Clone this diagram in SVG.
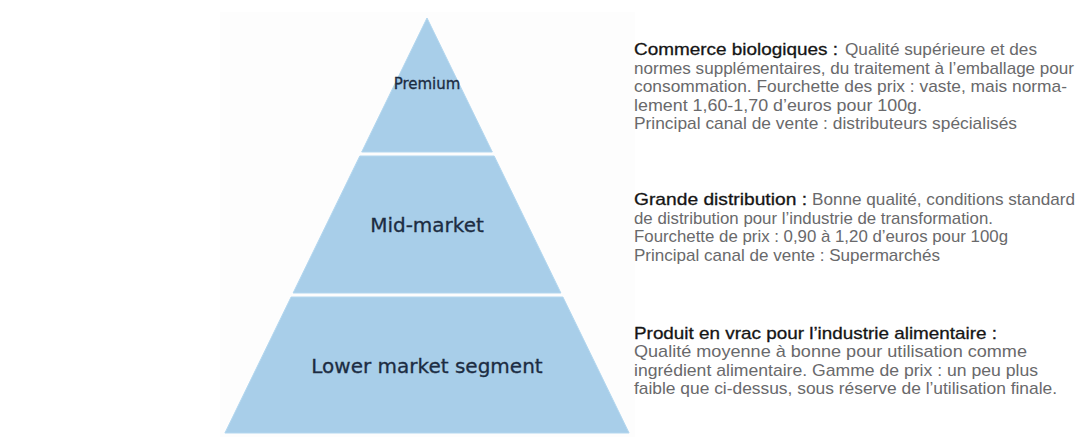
<svg xmlns="http://www.w3.org/2000/svg" width="1086" height="444" viewBox="0 0 1086 444">
<style>
.lvl{fill:#a8cee9;stroke:#b3d7ef;stroke-width:1}
.lbl{font-family:"DejaVu Sans",Verdana,sans-serif;fill:#1c2c42;stroke:#1c2c42;stroke-width:0.3;text-anchor:middle}
.hd{font-family:"Liberation Sans",Arial,Helvetica,sans-serif;font-size:17px;fill:#151515;stroke:#151515;stroke-width:0.3}
.bd{font-family:"Liberation Sans",Arial,Helvetica,sans-serif;font-size:17px;fill:#69696b}
</style>
<rect width="1086" height="444" fill="#ffffff"/>
<rect x="220" y="12" width="415" height="425" fill="#fdfdfd"/>
<g id="pyramid">
<g id="premium">
<polygon class="lvl" points="427,18 492.3,152 361.7,152"/>
<text class="lbl" x="427" y="89" font-size="15">Premium</text>
</g>
<g id="mid-market">
<polygon class="lvl" points="359.8,156 494.2,156 560.9,293 293.1,293"/>
<text class="lbl" x="427" y="232" font-size="20">Mid-market</text>
</g>
<g id="lower-market">
<polygon class="lvl" points="291.1,297 562.9,297 629.1,433 224.9,433"/>
<text class="lbl" x="427" y="373" font-size="20">Lower market segment</text>
</g>
</g>
<g id="connectors"/>
<g id="desc-premium">
<text class="hd" x="634" y="55" textLength="204" lengthAdjust="spacingAndGlyphs">Commerce biologiques :</text>
<text class="bd" x="845" y="55" textLength="192" lengthAdjust="spacingAndGlyphs">Qualité supérieure et des</text>
<text class="bd" x="634" y="73.5" textLength="440" lengthAdjust="spacingAndGlyphs">normes supplémentaires, du traitement à l’emballage pour</text>
<text class="bd" x="634" y="92" textLength="433" lengthAdjust="spacingAndGlyphs">consommation. Fourchette des prix : vaste, mais norma-</text>
<text class="bd" x="634" y="110.5" textLength="288" lengthAdjust="spacingAndGlyphs">lement 1,60-1,70 d’euros pour 100g.</text>
<text class="bd" x="634" y="129" textLength="383" lengthAdjust="spacingAndGlyphs">Principal canal de vente : distributeurs spécialisés</text>
</g>
<g id="desc-mid">
<text class="hd" x="634" y="205" textLength="173" lengthAdjust="spacingAndGlyphs">Grande distribution :</text>
<text class="bd" x="812" y="205" textLength="263" lengthAdjust="spacingAndGlyphs">Bonne qualité, conditions standard</text>
<text class="bd" x="634" y="223.5" textLength="359" lengthAdjust="spacingAndGlyphs">de distribution pour l’industrie de transformation.</text>
<text class="bd" x="634" y="242" textLength="374" lengthAdjust="spacingAndGlyphs">Fourchette de prix : 0,90 à 1,20 d’euros pour 100g</text>
<text class="bd" x="634" y="260.5" textLength="306" lengthAdjust="spacingAndGlyphs">Principal canal de vente : Supermarchés</text>
</g>
<g id="desc-lower">
<text class="hd" x="634" y="338.5" textLength="363" lengthAdjust="spacingAndGlyphs">Produit en vrac pour l’industrie alimentaire :</text>
<text class="bd" x="634" y="357" textLength="393" lengthAdjust="spacingAndGlyphs">Qualité moyenne à bonne pour utilisation comme</text>
<text class="bd" x="634" y="375.5" textLength="404" lengthAdjust="spacingAndGlyphs">ingrédient alimentaire. Gamme de prix : un peu plus</text>
<text class="bd" x="634" y="394" textLength="423" lengthAdjust="spacingAndGlyphs">faible que ci-dessus, sous réserve de l’utilisation finale.</text>
</g>
</svg>
